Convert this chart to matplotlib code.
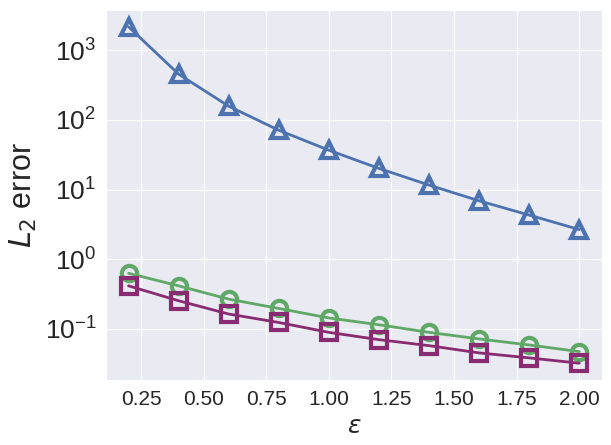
import matplotlib
matplotlib.use("Agg")
import matplotlib.pyplot as plt
from matplotlib.ticker import MultipleLocator
import seaborn as sns

sns.set_style("darkgrid")
plt.rcParams['font.family'] = ['Liberation Sans', 'DejaVu Sans']

eps = [0.2, 0.4, 0.6, 0.8, 1.0, 1.2, 1.4, 1.6, 1.8, 2.0]
err_tri = [2160, 453, 157, 71, 36.7, 20.1, 11.6, 6.9, 4.3, 2.67]
err_circ = [0.63, 0.416, 0.268, 0.197, 0.144, 0.115, 0.0895, 0.072, 0.059, 0.0474]
err_sq = [0.416, 0.254, 0.164, 0.124, 0.0895, 0.0703, 0.0577, 0.0454, 0.0385, 0.0323]

fig, ax = plt.subplots(figsize=(6.11, 4.45), dpi=100)
fig.subplots_adjust(left=0.1735, right=0.985, top=0.9775, bottom=0.146)

ax.plot(eps, err_tri, color='#4C72B0', lw=2, marker='^', ms=12, mew=3, mfc='none')
ax.plot(eps, err_circ, color='#60A867', lw=2, marker='o', ms=11, mew=3, mfc='none')
ax.plot(eps, err_sq, color='#882B70', lw=2, marker='s', ms=11, mew=3, mfc='none')

ax.set_yscale('log')
ax.xaxis.set_major_locator(MultipleLocator(0.25))
ax.set_xlabel(r'$\varepsilon$', fontsize=18)
ax.set_ylabel(r'$L_2$ error', fontsize=22)
ax.tick_params(axis='y', labelsize=19)
ax.tick_params(axis='x', labelsize=15)

fig.savefig('out.png', dpi=100)
